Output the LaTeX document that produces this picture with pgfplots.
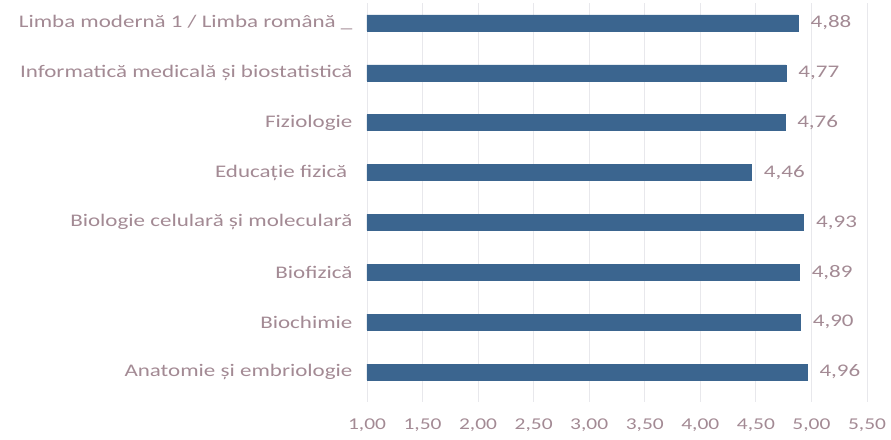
\documentclass[border=0pt]{standalone}
\usepackage{pgfplots}
\pgfplotsset{compat=1.18}
\usepackage{fontspec}
\setmainfont[FakeStretch=1.3]{Carlito}
\definecolor{barblue}{RGB}{59,101,143}
\definecolor{labmauve}{RGB}{163,138,148}
\definecolor{gridc}{RGB}{232,232,236}
\begin{document}
\begin{tikzpicture}
\begin{axis}[
  scale only axis,
  width=500pt, height=399pt,
  xbar,
  bar width=16pt,
  xmin=1, xmax=5.5,
  ymin=-0.6, ymax=7.4,
  xtick={1,1.5,2,2.5,3,3.5,4,4.5,5,5.5},
  ytick={0,1,2,3,4,5,6,7},
  yticklabels={Anatomie și embriologie, Biochimie, Biofizică, Biologie celulară și moleculară, Educație fizică\ \ , Fiziologie, Informatică medicală și biostatistică, Limba modernă 1 / Limba română \_},
  axis line style={draw=none},
  major tick length=0pt,
  xmajorgrids=true,
  grid style={gridc, line width=0.8pt},
  /pgf/number format/fixed,
  /pgf/number format/fixed zerofill,
  /pgf/number format/precision=2,
  /pgf/number format/use comma,
  /pgf/number format/assume math mode=true,
  xticklabel style={font=\fontsize{16.5}{20}\selectfont, text=labmauve, yshift=-13pt},
  yticklabel style={font=\fontsize{17.7}{21}\selectfont, text=labmauve, xshift=-11pt},
  nodes near coords,
  nodes near coords style={font=\fontsize{17.7}{21}\selectfont, text=labmauve, xshift=9pt},
  clip=false,
]
\addplot[fill=barblue, draw=barblue, line width=0.4pt] coordinates {
  (4.96,0) (4.90,1) (4.89,2) (4.93,3) (4.46,4) (4.76,5) (4.77,6) (4.88,7)
};
\end{axis}
\path ([xshift=-367pt,yshift=-37pt]current axis.south west) rectangle ([xshift=24pt,yshift=3pt]current axis.north east);
\end{tikzpicture}
\end{document}
